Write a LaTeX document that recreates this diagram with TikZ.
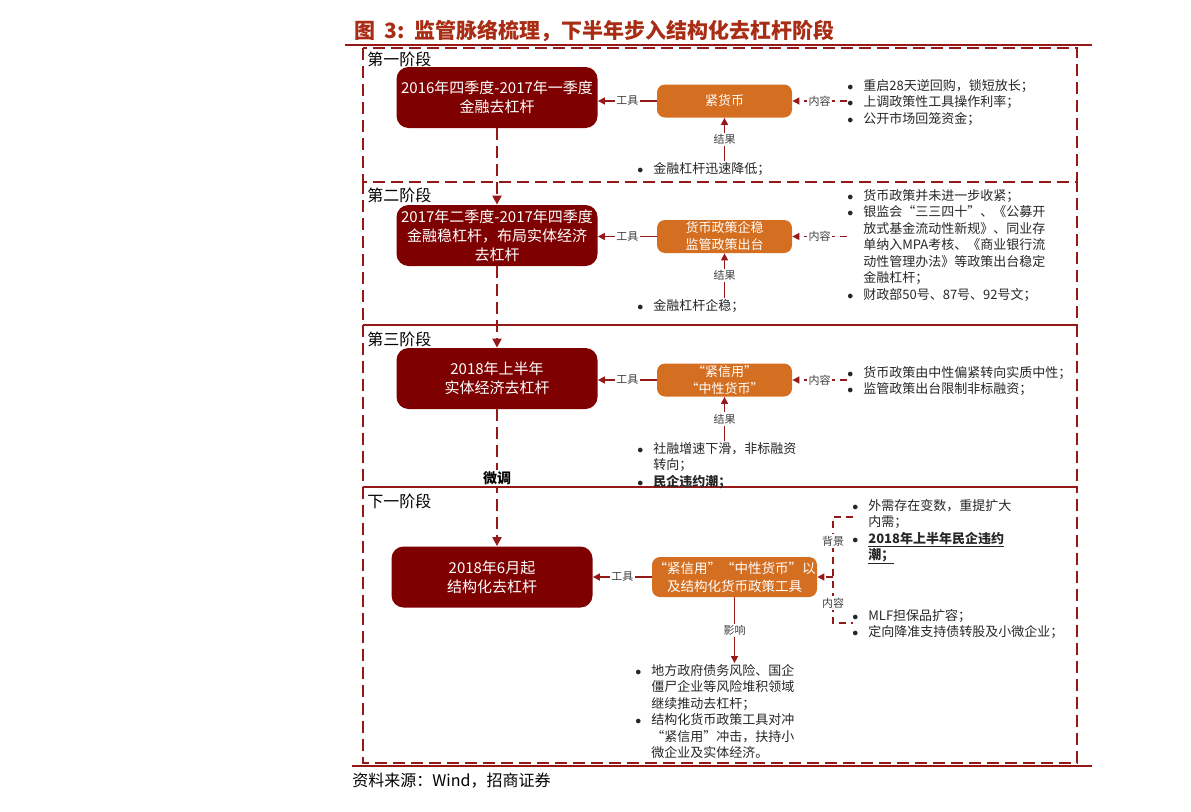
\documentclass[tikz,border=0pt]{standalone}
\usepackage{fontspec}
\setmainfont{Noto Sans CJK SC}
\usetikzlibrary{arrows.meta}

\definecolor{maroon}{RGB}{127,0,0}
\definecolor{rust}{RGB}{212,110,32}
\definecolor{linered}{RGB}{150,25,25}
\definecolor{titlered}{RGB}{168,45,20}

\newcommand{\bul}{\makebox[16pt][l]{$\bullet$}}
\newenvironment{blist}{\begin{tabular}[t]{@{}l@{}l@{}}}{\end{tabular}}

\tikzset{
  every picture/.style={line width=0.75pt},
  phasebox/.style={draw=linered, line width=2pt, dash pattern={on 12pt off 6pt}},
  phaselabel/.style={anchor=west, inner sep=0pt, font=\fontsize{16}{18}\selectfont},
  darkbox/.style={fill=maroon, rounded corners=12pt, text=white, align=center, inner sep=0pt,
    minimum width=201pt, minimum height=61pt, font=\fontsize{15}{19}\selectfont},
  toolbox/.style={fill=rust, rounded corners=8pt, text=white, align=center, inner sep=0pt,
    minimum width=135pt, minimum height=33pt, font=\fontsize{13}{17}\selectfont},
  itemtxt/.style={anchor=base west, inner sep=0pt, font=\fontsize{13}{16.5}\selectfont, text=black!85},
  tag/.style={fill=white, inner sep=1.5pt, font=\fontsize{11}{12}\selectfont, text=black!75},
  flow/.style={draw=linered, line width=2pt, dash pattern={on 12pt off 6pt}, -{Triangle[length=9pt,width=9pt]}},
  link/.style={draw=linered, line width=1.5pt, -{Triangle[length=7pt,width=7pt]}},
  dlink/.style={link, dash pattern={on 7pt off 5pt}},
}

\begin{document}
\begin{tikzpicture}[x=1pt, y=-1pt]
    \useasboundingbox (0,0) rectangle (1191,811);
    \node[anchor=west, inner sep=0pt, text=titlered, font=\fontsize{21}{24}\selectfont\bfseries] (title) at (354,31) {图\ \ 3:\ \ 监管脉络梳理，下半年步入结构化去杠杆阶段};
    \draw[linered, line width=1.5pt] (345,45) -- (1092,45);

    \draw[phasebox] (363,48) rectangle (1077,182);
    \draw[phasebox] (363,182) rectangle (1077,325);
    \draw[phasebox] (363,325) rectangle (1077,487);
    \draw[phasebox] (363,487) rectangle (1077,763);
    \draw[linered, line width=2pt] (363,487) -- (1077,487);
    \node[phaselabel] (ph1) at (367,59) {第一阶段};
    \node[phaselabel] (ph2) at (367,195) {第二阶段};
    \node[phaselabel] (ph3) at (367,339) {第三阶段};
    \node[phaselabel] (ph4) at (367,501) {下一阶段};

    \node[darkbox] (lev1) at (497,97.5) {2016年四季度-2017年一季度\\金融去杠杆};
    \node[darkbox] (lev2) at (497,235.5) {2017年二季度-2017年四季度\\金融稳杠杆，布局实体经济\\去杠杆};
    \node[darkbox] (lev3) at (497,378.5) {2018年上半年\\实体经济去杠杆};
    \node[darkbox] (lev4) at (492,577) {2018年6月起\\结构化去杠杆};

    \node[toolbox] (pol1) at (724.5,101) {紧货币};
    \node[toolbox] (pol2) at (724.5,236.5) {货币政策企稳\\监管政策出台};
    \node[toolbox] (pol3) at (724.5,380) {“紧信用”\\“中性货币”};
    \node[toolbox, minimum width=165pt, minimum height=40pt, font=\fontsize{13.5}{18}\selectfont] (pol4) at (734.5,577) {“紧信用”“中性货币”以\\及结构化货币政策工具};

    \node[itemtxt] (cont1) at (847,90) {\begin{blist}
        \bul&重启28天逆回购，锁短放长；\\
        \bul&上调政策性工具操作利率；\\
        \bul&公开市场回笼资金；\end{blist}};
    \node[itemtxt] (res1) at (637,173) {\begin{blist}\bul&金融杠杆迅速降低；\end{blist}};
    \node[itemtxt] (cont2) at (847,200) {\begin{blist}
        \bul&货币政策并未进一步收紧；\\
        \bul&银监会“三三四十”、《公募开\\
        &放式基金流动性新规》、同业存\\
        &单纳入MPA考核、《商业银行流\\
        &动性管理办法》等政策出台稳定\\
        &金融杠杆；\\
        \bul&财政部50号、87号、92号文；\end{blist}};
    \node[itemtxt] (res2) at (637,310) {\begin{blist}\bul&金融杠杆企稳；\end{blist}};
    \node[itemtxt] (cont3) at (847,377) {\begin{blist}
        \bul&货币政策由中性偏紧转向实质中性；\\
        \bul&监管政策出台限制非标融资；\end{blist}};
    \node[itemtxt] (res3) at (637,453) {\begin{blist}
        \bul&社融增速下滑，非标融资\\
        &转向；\\
        \bul&\textbf{民企违约潮；}\end{blist}};
    \node[itemtxt] (bg4) at (852,510) {\begin{blist}
        \bul&外需存在变数，重提扩大\\
        &内需；\\
        \bul&\textbf{\underline{2018年上半年民企违约}}\\
        &\textbf{\underline{潮；}}\end{blist}};
    \node[itemtxt] (ct4) at (852,620) {\begin{blist}
        \bul&MLF担保品扩容；\\
        \bul&定向降准支持债转股及小微企业；\end{blist}};
    \node[itemtxt] (eff4) at (635,675) {\begin{blist}
        \bul&地方政府债务风险、国企\\
        &僵尸企业等风险堆积领域\\
        &继续推动去杠杆；\\
        \bul&结构化货币政策工具对冲\\
        &“紧信用”冲击，扶持小\\
        &微企业及实体经济。\end{blist}};

    \draw[flow] (lev1.south) -- (lev1.south |- lev2.north);
    \draw[flow] (lev2.south) -- (lev2.south |- lev3.north);
    \draw[flow] (lev3.south) -- node[tag, font=\fontsize{14}{16}\selectfont\bfseries, text=black] {微调} (lev3.south |- lev4.north);

    \draw[link] (pol1.west) -- node[tag] {工具} (pol1.west -| lev1.east);
    \draw[link] (pol2.west) -- node[tag] {工具} (pol2.west -| lev2.east);
    \draw[link] (pol3.west) -- node[tag] {工具} (pol3.west -| lev3.east);
    \draw[link] (pol4.west) -- node[tag] {工具} (pol4.west -| lev4.east);

    \draw[link] (pol1.south |- res1.north) -- node[tag] {结果} (pol1.south);
    \draw[link] (pol2.south |- res2.north) -- node[tag] {结果} (pol2.south);
    \draw[link] (pol3.south |- res3.north) -- node[tag] {结果} (pol3.south);
    \draw[link] (pol4.south) -- node[tag] {影响} (pol4.south |- eff4.north);

    \draw[dlink] (pol1.east -| cont1.west) -- node[tag] {内容} (pol1.east);
    \draw[dlink] (pol2.east -| cont2.west) -- node[tag] {内容} (pol2.east);
    \draw[dlink] (pol3.east -| cont3.west) -- node[tag] {内容} (pol3.east);

    \coordinate (bkTop) at (853,517);
    \coordinate (bkBot) at (853,623);
    \draw[linered, line width=1.5pt, dash pattern={on 7pt off 5pt}] (bkTop) -- ++(-20,0) coordinate (bkEdge) -- (bkEdge |- bkBot) -- (bkBot);
    \draw[dlink] (bkEdge |- pol4.east) -- (pol4.east);
    \node[tag] (bgtag) at (833,541) {背景};
    \node[tag] (cttag) at (833,603) {内容};

    \draw[linered, line width=1.5pt] (352,766) -- (1092,766);
    \node[anchor=west, inner sep=0pt, font=\fontsize{16}{18}\selectfont] (src) at (352,781) {资料来源：Wind，招商证券};
\end{tikzpicture}
\end{document}
